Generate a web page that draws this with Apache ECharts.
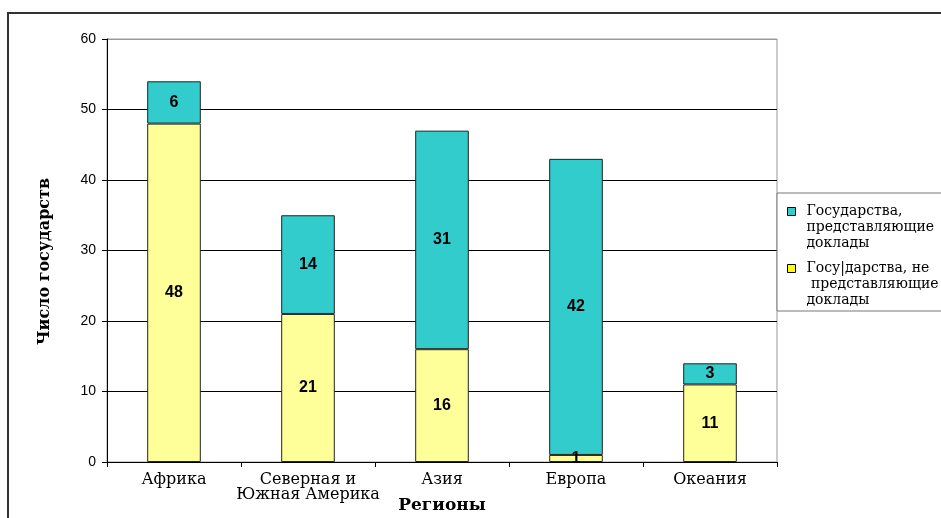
<!DOCTYPE html>
<html>
<head>
<meta charset="utf-8">
<script src="https://cdn.jsdelivr.net/npm/echarts@6/dist/echarts.min.js"></script>
<style>
  html, body { margin: 0; padding: 0; background: #fff; }
  #main { width: 941px; height: 518px; }
</style>
</head>
<body>
<div id="main"></div>
<script>
var regions = ['Африка', 'Северная и\nЮжная Америка', 'Азия', 'Европа', 'Океания'];
var notReporting = [48, 21, 16, 1, 11];
var reporting = [6, 14, 31, 42, 3];
var seriesNames = ['Государства,\nпредставляющие\nдоклады', 'Госу|дарства, не\n представляющие\nдоклады'];
var yTicks = [0, 10, 20, 30, 40, 50, 60];

var myChart = echarts.init(document.getElementById('main'));

var serif = '"DejaVu Serif", "Liberation Serif", serif';
var sans = '"Liberation Sans", Arial, sans-serif';

// small square on the first text line, empty space below (legend text is 3 lines)
var topSquare = 'path://M0,0 M14,0 M0,4 L8,4 L8,12 L0,12 Z M0,48';

// label for each bar segment
var segLabel = {
    show: true,
    position: 'inside',
    color: '#000',
    fontFamily: sans,
    fontWeight: 'bold',
    fontSize: 16
};

var option = {
    animation: false,
    backgroundColor: '#fff',
    graphic: [{
        type: 'rect',
        shape: { x: 8, y: 13, width: 1000, height: 600 },
        style: { fill: 'none', stroke: '#333', lineWidth: 2 },
        z: 0
    }],
    grid: {
        left: 107,
        right: 164,
        top: 39,
        bottom: 56,
        outerBoundsMode: 'none',
        containLabel: false,
        show: true,
        borderColor: '#999',
        borderWidth: 1,
        backgroundColor: 'transparent'
    },
    legend: {
        orient: 'vertical',
        left: 777,
        top: 193,
        padding: [10, 200, 2, 10],
        itemGap: 8,
        itemWidth: 14,
        itemHeight: 48,
        icon: topSquare,
        backgroundColor: '#fff',
        borderColor: '#777',
        borderWidth: 1,
        data: [
            { name: seriesNames[0], itemStyle: { color: '#33CCCC', borderColor: '#000', borderWidth: 1 } },
            { name: seriesNames[1], itemStyle: { color: '#FFFF00', borderColor: '#000', borderWidth: 1 } }
        ],
        textStyle: {
            fontFamily: serif,
            fontSize: 14,
            lineHeight: 16,
            color: '#000'
        }
    },
    xAxis: {
        type: 'category',
        data: regions,
        name: 'Регионы',
        nameLocation: 'middle',
        nameGap: 35,
        nameMoveOverlap: false,
        nameTextStyle: { fontFamily: serif, fontWeight: 'bold', fontSize: 17, color: '#000' },
        axisLine: { lineStyle: { color: '#000', width: 1 } },
        axisTick: { show: true, length: 5, lineStyle: { color: '#000' } },
        axisLabel: { interval: 0, fontFamily: serif, fontSize: 16, lineHeight: 15, color: '#000', margin: 10 }
    },
    yAxis: {
        type: 'value',
        min: 0,
        max: 60,
        interval: 10,
        name: 'Число государств',
        nameLocation: 'middle',
        nameGap: 54,
        nameMoveOverlap: false,
        nameTextStyle: { fontFamily: serif, fontWeight: 'bold', fontSize: 16, color: '#000', padding: [0, 22, 0, 0] },
        axisLine: { show: true, lineStyle: { color: '#000', width: 1 } },
        axisTick: { show: true, length: 5, lineStyle: { color: '#000' } },
        axisLabel: {
            fontFamily: sans, fontSize: 14, color: '#000', margin: 11,
            formatter: function (v) { return yTicks.indexOf(v) >= 0 ? String(v) : ''; }
        },
        splitLine: {
            show: true,
            lineStyle: { color: ['#000', '#000', '#000', '#000', '#000', '#000', '#999'], width: 1 }
        }
    },
    series: [
        {
            name: seriesNames[1],
            type: 'bar',
            stack: 'all',
            barWidth: '40%',
            data: notReporting,
            itemStyle: { color: '#FFFF99', borderColor: '#222', borderWidth: 1 },
            label: segLabel
        },
        {
            name: seriesNames[0],
            type: 'bar',
            stack: 'all',
            barWidth: '40%',
            data: reporting,
            itemStyle: { color: '#33CCCC', borderColor: '#222', borderWidth: 1 },
            label: segLabel
        }
    ]
};

myChart.setOption(option);
</script>
</body>
</html>
